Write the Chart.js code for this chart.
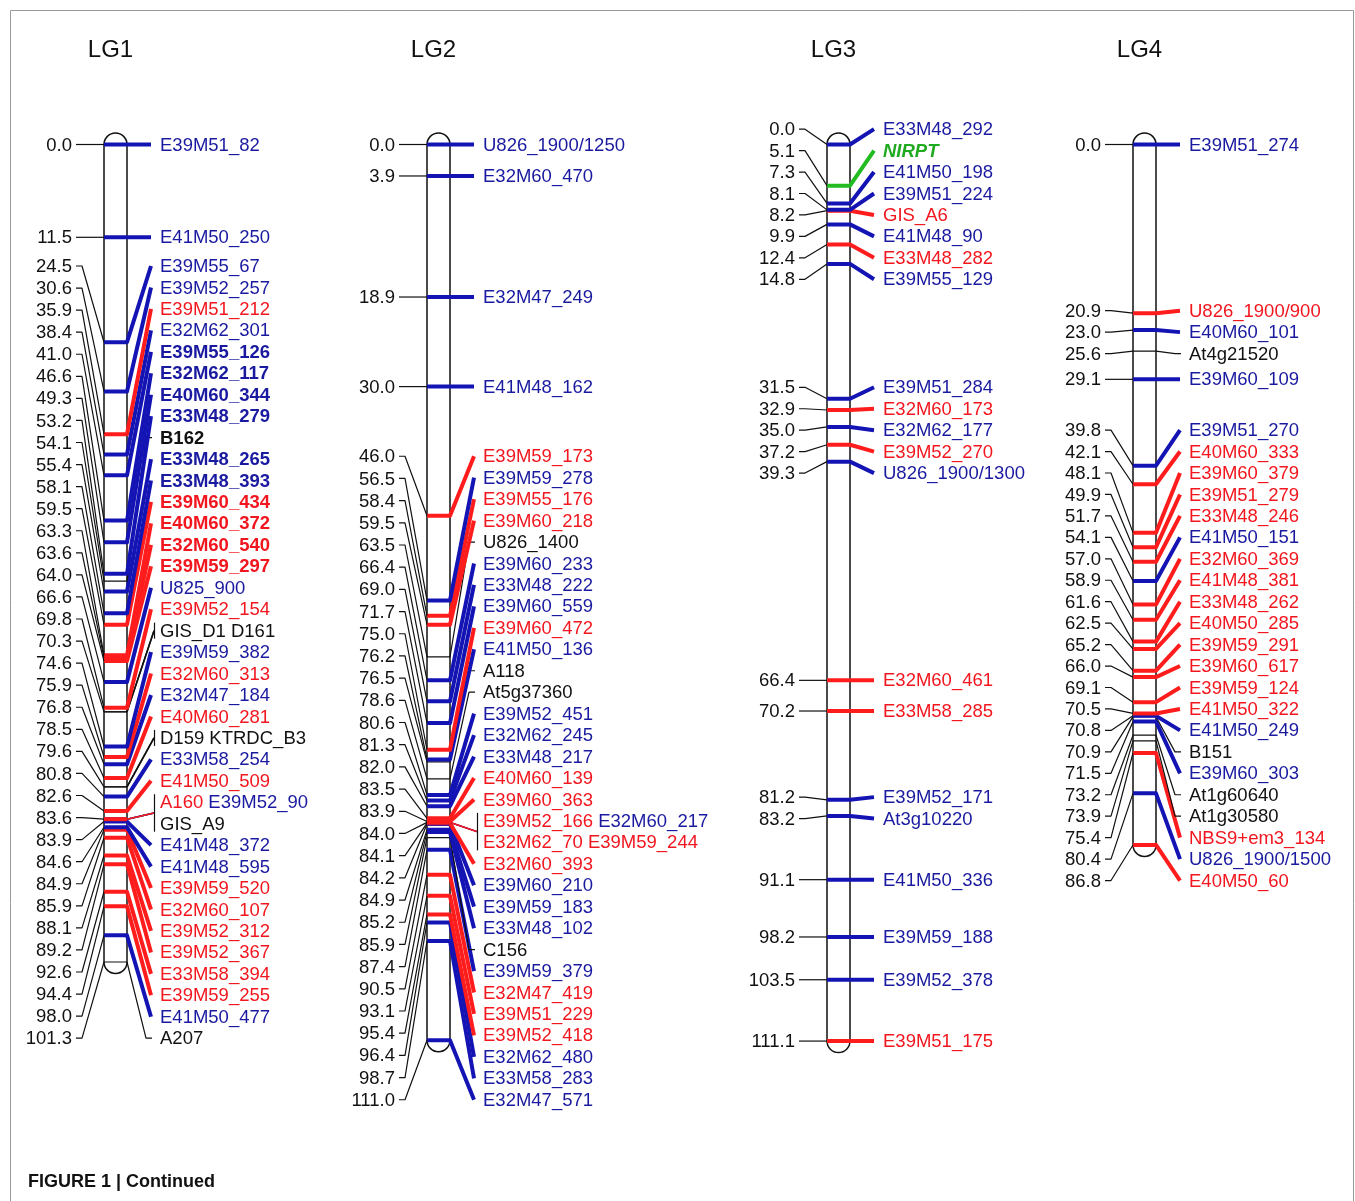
<!DOCTYPE html>
<html>
<head>
<meta charset="utf-8">
<script src="https://cdn.jsdelivr.net/npm/chart.js@4.4.1/dist/chart.umd.min.js"></script>
<style>
  html, body { margin: 0; padding: 0; background: #fff; }
  canvas { display: block; }
</style>
</head>
<body>
<canvas id="map" width="1355" height="1201"></canvas>
<script>
// linkage groups
const groups = ['LG1', 'LG2', 'LG3', 'LG4'];

// marker kind: b = blue, r = red, k = black (anchor), g = green
const lg1Names = ['E39M51_82', 'E41M50_250', 'E39M55_67', 'E39M52_257', 'E39M51_212', 'E32M62_301', 'E39M55_126',
  'E32M62_117', 'E40M60_344', 'E33M48_279', 'B162', 'E33M48_265', 'E33M48_393', 'E39M60_434', 'E40M60_372',
  'E32M60_540', 'E39M59_297', 'U825_900', 'E39M52_154', 'GIS_D1', 'D161', 'E39M59_382', 'E32M60_313',
  'E32M47_184', 'E40M60_281', 'D159', 'KTRDC_B3', 'E33M58_254', 'E41M50_509', 'A160', 'E39M52_90', 'GIS_A9',
  'E41M48_372', 'E41M48_595', 'E39M59_520', 'E32M60_107', 'E39M52_312', 'E39M52_367', 'E33M58_394',
  'E39M59_255', 'E41M50_477', 'A207'];
const lg1Pos = [0.0, 11.5, 24.5, 30.6, 35.9, 38.4, 41.0,
  46.6, 49.3, 53.2, 54.1, 55.4, 58.1, 59.5, 63.3,
  63.6, 64.0, 66.6, 69.8, 70.3, 70.3, 74.6, 75.9,
  76.8, 78.5, 79.6, 79.6, 80.8, 82.6, 83.6, 83.6, 83.6,
  83.9, 84.6, 84.9, 85.9, 88.1, 89.2, 92.6,
  94.4, 98.0, 101.3];
const lg1Kind = ['b', 'b', 'b', 'b', 'r', 'b', 'b',
  'b', 'b', 'b', 'k', 'b', 'b', 'r', 'r',
  'r', 'r', 'b', 'r', 'k', 'k', 'b', 'r',
  'b', 'r', 'k', 'k', 'b', 'r', 'r', 'b', 'k',
  'b', 'b', 'r', 'r', 'r', 'r', 'r',
  'r', 'b', 'k'];

const lg2Names = ['U826_1900/1250', 'E32M60_470', 'E32M47_249', 'E41M48_162', 'E39M59_173', 'E39M59_278',
  'E39M55_176', 'E39M60_218', 'U826_1400', 'E39M60_233', 'E33M48_222', 'E39M60_559', 'E39M60_472',
  'E41M50_136', 'A118', 'At5g37360', 'E39M52_451', 'E32M62_245', 'E33M48_217', 'E40M60_139', 'E39M60_363',
  'E39M52_166', 'E32M60_217', 'E32M62_70', 'E39M59_244', 'E32M60_393', 'E39M60_210', 'E39M59_183',
  'E33M48_102', 'C156', 'E39M59_379', 'E32M47_419', 'E39M51_229', 'E39M52_418', 'E32M62_480',
  'E33M58_283', 'E32M47_571'];
const lg2Pos = [0.0, 3.9, 18.9, 30.0, 46.0, 56.5,
  58.4, 59.5, 63.5, 66.4, 69.0, 71.7, 75.0,
  76.2, 76.5, 78.6, 80.6, 81.3, 82.0, 83.5, 83.9,
  84.0, 84.0, 84.0, 84.0, 84.1, 84.2, 84.9,
  85.2, 85.9, 87.4, 90.5, 93.1, 95.4, 96.4,
  98.7, 111.0];
const lg2Kind = ['b', 'b', 'b', 'b', 'r', 'b',
  'r', 'r', 'k', 'b', 'b', 'b', 'r',
  'b', 'k', 'k', 'b', 'b', 'b', 'r', 'r',
  'r', 'b', 'r', 'r', 'r', 'b', 'b',
  'b', 'k', 'b', 'r', 'r', 'r', 'b',
  'b', 'b'];

const lg3Names = ['E33M48_292', 'NIRPT', 'E41M50_198', 'E39M51_224', 'GIS_A6', 'E41M48_90', 'E33M48_282',
  'E39M55_129', 'E39M51_284', 'E32M60_173', 'E32M62_177', 'E39M52_270', 'U826_1900/1300', 'E32M60_461',
  'E33M58_285', 'E39M52_171', 'At3g10220', 'E41M50_336', 'E39M59_188', 'E39M52_378', 'E39M51_175'];
const lg3Pos = [0.0, 5.1, 7.3, 8.1, 8.2, 9.9, 12.4,
  14.8, 31.5, 32.9, 35.0, 37.2, 39.3, 66.4,
  70.2, 81.2, 83.2, 91.1, 98.2, 103.5, 111.1];
const lg3Kind = ['b', 'g', 'b', 'b', 'r', 'b', 'r',
  'b', 'b', 'r', 'b', 'r', 'b', 'r',
  'r', 'b', 'b', 'b', 'b', 'b', 'r'];

const lg4Names = ['E39M51_274', 'U826_1900/900', 'E40M60_101', 'At4g21520', 'E39M60_109', 'E39M51_270',
  'E40M60_333', 'E39M60_379', 'E39M51_279', 'E33M48_246', 'E41M50_151', 'E32M60_369', 'E41M48_381',
  'E33M48_262', 'E40M50_285', 'E39M59_291', 'E39M60_617', 'E39M59_124', 'E41M50_322', 'E41M50_249',
  'B151', 'E39M60_303', 'At1g60640', 'At1g30580', 'NBS9+em3_134', 'U826_1900/1500', 'E40M50_60'];
const lg4Pos = [0.0, 20.9, 23.0, 25.6, 29.1, 39.8,
  42.1, 48.1, 49.9, 51.7, 54.1, 57.0, 58.9,
  61.6, 62.5, 65.2, 66.0, 69.1, 70.5, 70.8,
  70.9, 71.5, 73.2, 73.9, 75.4, 80.4, 86.8];
const lg4Kind = ['b', 'r', 'b', 'k', 'b', 'b',
  'r', 'r', 'r', 'r', 'b', 'r', 'r',
  'r', 'r', 'r', 'r', 'r', 'r', 'b',
  'k', 'b', 'k', 'k', 'r', 'b', 'r'];

// markers printed in bold in the figure
const boldMarkers = ['E39M55_126', 'E32M62_117', 'E40M60_344', 'E33M48_279', 'B162', 'E33M48_265',
  'E33M48_393', 'E39M60_434', 'E40M60_372', 'E32M60_540', 'E39M59_297', 'NIRPT'];
const italicMarkers = ['NIRPT'];

const maps = [
  { names: lg1Names, pos: lg1Pos, kind: lg1Kind },
  { names: lg2Names, pos: lg2Pos, kind: lg2Kind },
  { names: lg3Names, pos: lg3Pos, kind: lg3Kind },
  { names: lg4Names, pos: lg4Pos, kind: lg4Kind }
];

// ---- layout ----
const W = 1355, H = 1201;
const PX_CM = 8.07, TOP_PX = 144.5;
const yMin = -TOP_PX / PX_CM, yMax = yMin + H / PX_CM;
const ROW = 21.45 / PX_CM;              // label row spacing in cM
const chromLeft = [104, 427, 827, 1133];
const chromW = 23;
const FONT = '"Liberation Sans", Arial, sans-serif';

const lineColor = { b: '#1414b4', r: '#ff1c1c', k: '#111111', g: '#22bb22' };
const textColor = { b: '#1a1aa0', r: '#f2161e', k: '#111111', g: '#1faa1f' };

function buildSites(m) {
  const sites = [], rows = [];
  m.names.forEach((n, i) => {
    let s = sites[sites.length - 1];
    if (!s || s.pos !== m.pos[i]) {
      s = { pos: m.pos[i], markers: [], rows: [] };
      sites.push(s);
    }
    s.markers.push({ name: n, kind: m.kind[i] });
  });
  sites.forEach(s => {
    for (let i = 0; i < s.markers.length; i += 2) {
      const r = { site: s, items: s.markers.slice(i, i + 2), want: s.pos };
      rows.push(r);
      s.rows.push(r);
    }
  });
  return { sites, rows };
}

// stack overlapping labels, each stack centred on the middle of its span
function placeRows(rows) {
  const cl = rows.map((r, i) => ({ i0: i, n: 1, lo: r.want, hi: r.want }));
  const top = c => (c.lo + c.hi) / 2 - (c.n - 1) * ROW / 2;
  let merged = true;
  while (merged) {
    merged = false;
    for (let k = 1; k < cl.length; k++) {
      if (top(cl[k - 1]) + cl[k - 1].n * ROW > top(cl[k]) + 1e-6) {
        cl[k - 1].n += cl[k].n;
        cl[k - 1].hi = cl[k].hi;
        cl.splice(k, 1);
        merged = true;
        break;
      }
    }
  }
  cl.forEach(c => {
    const t = top(c);
    const sites = [];
    for (let j = 0; j < c.n; j++) {
      const r = rows[c.i0 + j];
      r.y = t + j * ROW;
      if (sites.indexOf(r.site) < 0) sites.push(r.site);
    }
    // left-hand position labels share the same span
    const span = (c.n - 1) * ROW;
    sites.forEach((s, j) => {
      s.leftY = sites.length === 1 ? t + span / 2 : t + j * span / (sites.length - 1);
    });
  });
}

const layout = maps.map((m, g) => {
  const L = buildSites(m);
  placeRows(L.rows);
  L.sites.forEach(s => { s.anchor = s.rows.reduce((a, r) => a + r.y, 0) / s.rows.length; });
  L.x0 = chromLeft[g];
  L.x1 = chromLeft[g] + chromW;
  L.labelX = L.x1 + 33;
  L.numX = L.x0 - 32;
  L.len = Math.max(...m.pos);
  return L;
});

// ---- datasets ----
const datasets = [];
function line(pts, color, width) {
  datasets.push({
    data: pts, showLine: true, borderColor: color, borderWidth: width,
    pointRadius: 0, pointHoverRadius: 0, fill: false, tension: 0,
    borderJoinStyle: 'round', borderCapStyle: 'butt'
  });
}

layout.forEach(L => {
  L.sites.forEach(s => {
    // left: position tick
    line([{ x: L.x0, y: s.pos }, { x: L.x0 - 22, y: s.leftY }, { x: L.x0 - 28, y: s.leftY }], '#111', 1.2);
    const multi = s.markers.length > 1;
    s.markers.forEach(mk => {
      const col = lineColor[mk.kind];
      const w = mk.kind === 'k' ? 1.2 : 4;
      if (multi) {
        line([{ x: L.x0, y: s.pos }, { x: L.x1, y: s.pos }], col, w);
        line([{ x: L.x1, y: s.pos }, { x: L.labelX - 6, y: s.anchor }], col, 1.5);
      } else if (mk.kind === 'k') {
        line([{ x: L.x0, y: s.pos }, { x: L.x1, y: s.pos }, { x: L.labelX - 14, y: s.anchor },
          { x: L.labelX - 8, y: s.anchor }], col, w);
      } else {
        line([{ x: L.x0, y: s.pos }, { x: L.x1, y: s.pos }, { x: L.labelX - 9, y: s.anchor }], col, w);
      }
    });
  });
});

// ---- drawing of chromosomes and texts ----
const mapPlugin = {
  id: 'mapPlugin',
  beforeDatasetsDraw(chart) {
    const ctx = chart.ctx, xs = chart.scales.x, ys = chart.scales.y;
    ctx.save();
    layout.forEach(L => {
      const a = xs.getPixelForValue(L.x0), b = xs.getPixelForValue(L.x1);
      const t = ys.getPixelForValue(0), e = ys.getPixelForValue(L.len);
      const cx = (a + b) / 2, r = (b - a) / 2;
      ctx.beginPath();
      ctx.moveTo(a, e);
      ctx.lineTo(a, t);
      ctx.arc(cx, t, r, Math.PI, 0);
      ctx.lineTo(b, e);
      ctx.arc(cx, e, r, 0, Math.PI);
      ctx.closePath();
      ctx.fillStyle = '#fff';
      ctx.fill();
      ctx.strokeStyle = '#111';
      ctx.lineWidth = 1.5;
      ctx.stroke();
    });
    ctx.restore();
  },
  afterDatasetsDraw(chart) {
    const ctx = chart.ctx, xs = chart.scales.x, ys = chart.scales.y;
    ctx.save();
    // frame
    ctx.strokeStyle = '#9a9a9a';
    ctx.lineWidth = 1;
    ctx.beginPath();
    ctx.moveTo(10.5, H);
    ctx.lineTo(10.5, 10.5);
    ctx.lineTo(W - 1.5, 10.5);
    ctx.lineTo(W - 1.5, H);
    ctx.stroke();

    layout.forEach((L, g) => {
      // title
      ctx.fillStyle = '#111';
      ctx.font = '24px ' + FONT;
      ctx.textAlign = 'center';
      ctx.textBaseline = 'middle';
      ctx.fillText(groups[g], xs.getPixelForValue((L.x0 + L.x1) / 2) - 5, 50);

      // positions
      ctx.font = '18.5px ' + FONT;
      ctx.textAlign = 'right';
      L.sites.forEach(s => {
        ctx.fillStyle = '#111';
        ctx.fillText(s.pos.toFixed(1), xs.getPixelForValue(L.numX), ys.getPixelForValue(s.leftY) + 1);
      });

      // marker names
      ctx.textAlign = 'left';
      L.rows.forEach(r => {
        let x = xs.getPixelForValue(L.labelX);
        const y = ys.getPixelForValue(r.y) + 1;
        r.items.forEach(it => {
          const bold = boldMarkers.includes(it.name) ? 'bold ' : '';
          const ital = italicMarkers.includes(it.name) ? 'italic ' : '';
          ctx.font = ital + bold + '18.5px ' + FONT;
          ctx.fillStyle = textColor[it.kind];
          ctx.fillText(it.name, x, y);
          x += ctx.measureText(it.name + ' ').width;
        });
      });

      // brackets for positions carrying several markers
      ctx.strokeStyle = '#111';
      ctx.lineWidth = 1.2;
      L.sites.filter(s => s.markers.length > 1).forEach(s => {
        const bx = Math.round(xs.getPixelForValue(L.labelX - 6)) + 0.5;
        const y0 = ys.getPixelForValue(s.rows[0].y) - 8;
        const y1 = ys.getPixelForValue(s.rows[s.rows.length - 1].y) + 8;
        ctx.beginPath();
        ctx.moveTo(bx, y0);
        ctx.lineTo(bx, y1);
        ctx.stroke();
      });
    });

    // caption
    ctx.fillStyle = '#111';
    ctx.font = 'bold 18px ' + FONT;
    ctx.textAlign = 'left';
    ctx.textBaseline = 'middle';
    ctx.fillText('FIGURE 1 | Continued', 28, 1182);
    ctx.restore();
  }
};

new Chart(document.getElementById('map'), {
  type: 'scatter',
  data: { datasets },
  options: {
    responsive: false,
    animation: false,
    devicePixelRatio: 1,
    layout: { padding: 0 },
    events: [],
    scales: {
      x: { type: 'linear', min: 0, max: W, display: false },
      y: { type: 'linear', min: yMin, max: yMax, reverse: true, display: false }
    },
    plugins: {
      legend: { display: false },
      tooltip: { enabled: false }
    }
  },
  plugins: [mapPlugin]
});
</script>
</body>
</html>
